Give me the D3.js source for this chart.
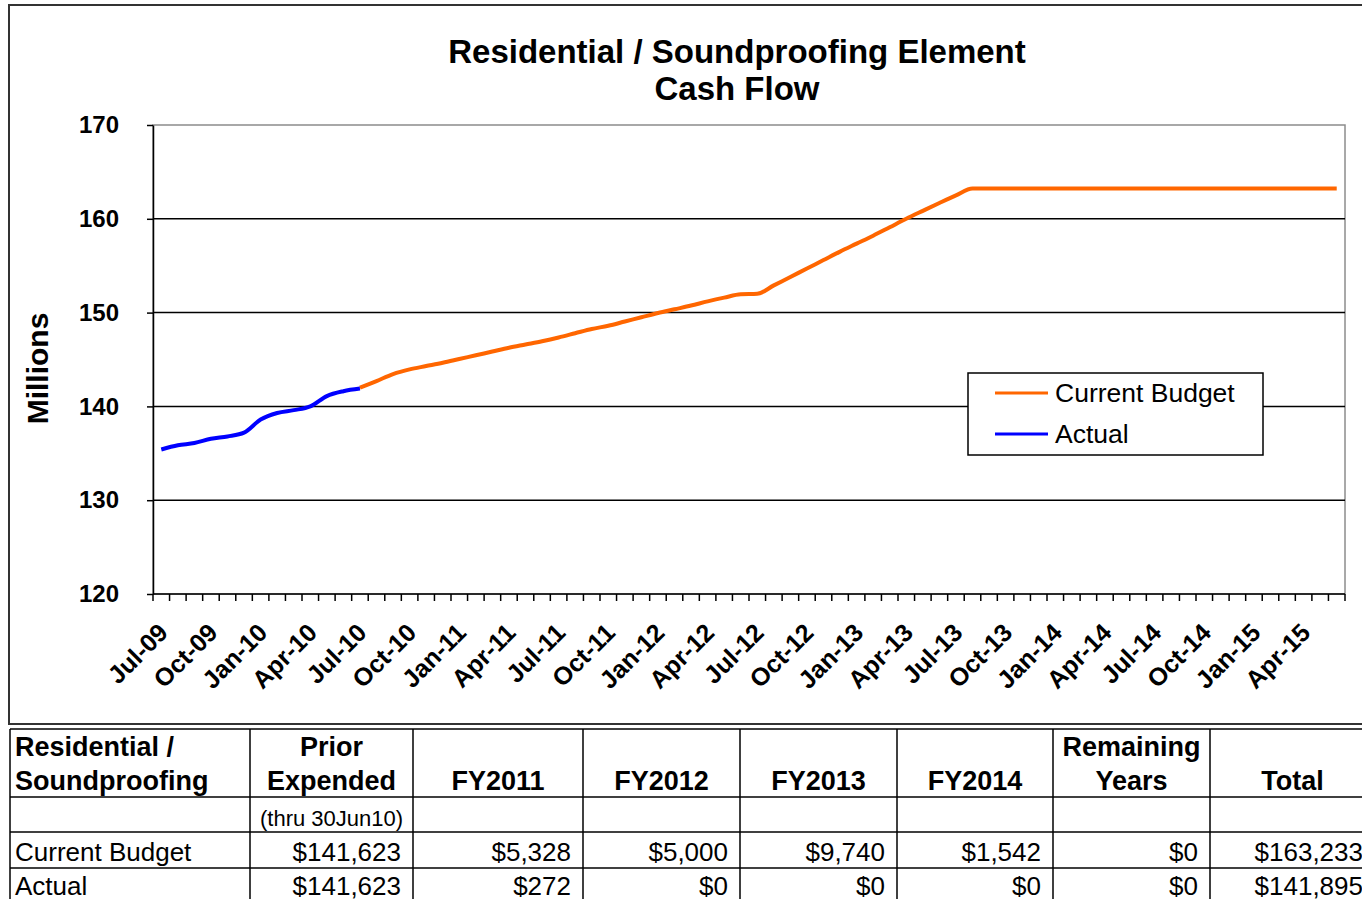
<!DOCTYPE html>
<html>
<head>
<meta charset="utf-8">
<script src="https://cdn.jsdelivr.net/npm/d3@7"></script>
<style>
  body { margin: 0; background: #fff; }
  svg { display: block; font-family: "Liberation Sans", Arial, sans-serif; }
</style>
</head>
<body>
<div class="chart"></div>
<script>
// months on the category axis (Jul-09 .. Jun-15)
const months = [
  'Jul-09','Aug-09','Sep-09','Oct-09','Nov-09','Dec-09','Jan-10','Feb-10','Mar-10','Apr-10','May-10','Jun-10',
  'Jul-10','Aug-10','Sep-10','Oct-10','Nov-10','Dec-10','Jan-11','Feb-11','Mar-11','Apr-11','May-11','Jun-11',
  'Jul-11','Aug-11','Sep-11','Oct-11','Nov-11','Dec-11','Jan-12','Feb-12','Mar-12','Apr-12','May-12','Jun-12',
  'Jul-12','Aug-12','Sep-12','Oct-12','Nov-12','Dec-12','Jan-13','Feb-13','Mar-13','Apr-13','May-13','Jun-13',
  'Jul-13','Aug-13','Sep-13','Oct-13','Nov-13','Dec-13','Jan-14','Feb-14','Mar-14','Apr-14','May-14','Jun-14',
  'Jul-14','Aug-14','Sep-14','Oct-14','Nov-14','Dec-14','Jan-15','Feb-15','Mar-15','Apr-15','May-15','Jun-15'
];

// cumulative, millions
const actual = [135.4, 135.85, 136.1, 136.55, 136.8, 137.2, 138.6, 139.3, 139.6, 140.0, 141.1, 141.62, 141.9];

const budget = [
  null, null, null, null, null, null, null, null, null, null, null, null,
  142.0, 142.7, 143.45, 143.95, 144.3, 144.65, 145.05, 145.45, 145.85, 146.25, 146.6, 146.95,
  147.35, 147.8, 148.25, 148.6, 149.05, 149.5, 149.95, 150.35, 150.75, 151.2, 151.6, 151.95,
  152.0, 152.9, 153.8, 154.7, 155.6, 156.5, 157.35, 158.2, 159.1, 160.0, 160.85, 161.69,
  162.5, 163.23, 163.23, 163.23, 163.23, 163.23, 163.23, 163.23, 163.23, 163.23, 163.23, 163.23,
  163.23, 163.23, 163.23, 163.23, 163.23, 163.23, 163.23, 163.23, 163.23, 163.23, 163.23, 163.23
];

const yTicks = [120, 130, 140, 150, 160, 170];

const seriesNames = ['Current Budget', 'Actual'];
const seriesColors = ['#ff6600', '#0000ff'];

// table under the chart
const tableHead1 = ['Residential /', 'Prior', '', '', '', '', 'Remaining', ''];
const tableHead2 = ['Soundproofing', 'Expended', 'FY2011', 'FY2012', 'FY2013', 'FY2014', 'Years', 'Total'];
const tableNote = ['', '(thru 30Jun10)', '', '', '', '', '', ''];
const budgetRow = ['Current Budget', '$141,623', '$5,328', '$5,000', '$9,740', '$1,542', '$0', '$163,233'];
const actualRow = ['Actual', '$141,623', '$272', '$0', '$0', '$0', '$0', '$141,895'];

const W = 1362, H = 899;
const plot = { left: 153, right: 1345, top: 125, bottom: 594 };

const svg = d3.select('.chart')
  .append('svg')
    .attr('width', W)
    .attr('height', H);

// chart frame
svg.append('rect')
  .attr('x', 9).attr('y', 5)
  .attr('width', W + 10).attr('height', 719)
  .attr('fill', 'none')
  .attr('stroke', '#333')
  .attr('stroke-width', 2);

const title = svg.append('text')
  .attr('text-anchor', 'middle')
  .style('font-weight', 'bold')
  .style('font-size', '33px');
title.append('tspan').attr('x', 737).attr('y', 63).text('Residential / Soundproofing Element');
title.append('tspan').attr('x', 737).attr('y', 100).text('Cash Flow');

const x = d3.scaleBand()
  .domain(months)
  .range([plot.left, plot.right]);

const y = d3.scaleLinear()
  .domain([120, 170])
  .range([plot.bottom, plot.top]);

// plot area border (grey)
svg.append('rect')
  .attr('x', plot.left).attr('y', plot.top)
  .attr('width', plot.right - plot.left)
  .attr('height', plot.bottom - plot.top)
  .attr('fill', 'none')
  .attr('stroke', '#8c8c8c')
  .attr('stroke-width', 1.5);

// gridlines
svg.append('g')
  .selectAll('line')
  .data(yTicks.filter(d => d > 120 && d < 170))
  .enter()
  .append('line')
    .attr('x1', plot.left)
    .attr('x2', plot.right)
    .attr('y1', d => y(d))
    .attr('y2', d => y(d))
    .attr('stroke', '#000')
    .attr('stroke-width', 1.5);

// y axis
const yAxis = svg.append('g')
  .attr('transform', `translate(${plot.left},0)`)
  .call(d3.axisLeft(y).tickValues(yTicks).tickSize(6).tickPadding(28).tickSizeOuter(0));
yAxis.select('.domain').attr('stroke', '#000').attr('stroke-width', 1.5);
yAxis.selectAll('.tick line').attr('stroke', '#000').attr('stroke-width', 1.5);
yAxis.selectAll('.tick text')
  .attr('fill', '#000')
  .style('font-size', '24px')
  .style('font-weight', 'bold')
  .style('font-family', '"Liberation Sans", Arial, sans-serif');

svg.append('text')
  .attr('transform', `translate(48,${(plot.top + plot.bottom) / 2 + 9}) rotate(-90)`)
  .attr('text-anchor', 'middle')
  .style('font-weight', 'bold')
  .style('font-size', '30px')
  .text('Millions');

// x axis: ticks between categories
const xAxisG = svg.append('g');
xAxisG.append('line')
  .attr('x1', plot.left).attr('x2', plot.right)
  .attr('y1', plot.bottom).attr('y2', plot.bottom)
  .attr('stroke', '#000').attr('stroke-width', 1.5);

const boundaries = months.map(m => x(m)).concat([x(months[months.length - 1]) + x.bandwidth()]);
xAxisG.selectAll('.xt')
  .data(boundaries)
  .enter()
  .append('line')
    .attr('x1', d => d).attr('x2', d => d)
    .attr('y1', plot.bottom).attr('y2', plot.bottom + 7)
    .attr('stroke', '#000').attr('stroke-width', 1.5);

xAxisG.selectAll('.xl')
  .data(months.filter((d, i) => i % 3 === 0))
  .enter()
  .append('text')
    .attr('text-anchor', 'end')
    .attr('transform', d => `translate(${x(d) + x.bandwidth() / 2 + 2},${plot.bottom + 34}) rotate(-45)`)
    .attr('dy', '0.35em')
    .style('font-size', '25px')
    .style('font-weight', 'bold')
    .text(d => d);

// lines
const cx = (i) => x(months[i]) + x.bandwidth() / 2;
const line = d3.line()
  .defined(d => d != null)
  .x((d, i) => cx(i))
  .y(d => y(d))
  .curve(d3.curveMonotoneX);

svg.append('path')
  .datum(budget)
  .attr('d', line)
  .attr('fill', 'none')
  .attr('stroke', seriesColors[0])
  .attr('stroke-width', 4)
  .attr('stroke-linejoin', 'round');

svg.append('path')
  .datum(actual)
  .attr('d', line)
  .attr('fill', 'none')
  .attr('stroke', seriesColors[1])
  .attr('stroke-width', 4)
  .attr('stroke-linejoin', 'round');

// legend
const legend = svg.append('g');
legend.append('rect')
  .attr('x', 968).attr('y', 373)
  .attr('width', 295).attr('height', 82)
  .attr('fill', '#fff')
  .attr('stroke', '#000')
  .attr('stroke-width', 1.5);

legend.selectAll('line')
  .data(seriesNames)
  .enter()
  .append('line')
    .attr('x1', 995).attr('x2', 1048)
    .attr('y1', (d, i) => 393 + i * 41)
    .attr('y2', (d, i) => 393 + i * 41)
    .attr('stroke', (d, i) => seriesColors[i])
    .attr('stroke-width', 3);

legend.selectAll('text')
  .data(seriesNames)
  .enter()
  .append('text')
    .attr('x', 1055)
    .attr('y', (d, i) => 402 + i * 41)
    .style('font-size', '26.5px')
    .text(d => d);

// table
const colEdges = [10, 250, 413, 583, 740, 897, 1053, 1210, 1375];
const rowEdges = [729, 797, 832, 868, 905];

const table = svg.append('g');
table.selectAll('.hl')
  .data(rowEdges)
  .enter()
  .append('line')
    .attr('x1', colEdges[0]).attr('x2', W)
    .attr('y1', d => d).attr('y2', d => d)
    .attr('stroke', '#000').attr('stroke-width', 1.5);

table.selectAll('.vl')
  .data(colEdges)
  .enter()
  .append('line')
    .attr('x1', d => d).attr('x2', d => d)
    .attr('y1', rowEdges[0]).attr('y2', H)
    .attr('stroke', '#000').attr('stroke-width', 1.5);

const cellText = (row, baseline, opts) => {
  table.selectAll(null)
    .data(row)
    .enter()
    .append('text')
      .attr('x', (d, i) => {
        if (i === 0) return colEdges[0] + 5;
        if (opts.center) return (colEdges[i] + colEdges[i + 1]) / 2;
        return colEdges[i + 1] - 12;
      })
      .attr('y', baseline)
      .attr('text-anchor', (d, i) => i === 0 ? 'start' : (opts.center ? 'middle' : 'end'))
      .style('font-size', opts.size)
      .style('font-weight', opts.bold ? 'bold' : 'normal')
      .text(d => d);
};

cellText(tableHead1, 756, { center: true, bold: true, size: '27px' });
cellText(tableHead2, 790, { center: true, bold: true, size: '27px' });
cellText(tableNote, 826, { center: true, bold: false, size: '22px' });
cellText(budgetRow, 861, { center: false, bold: false, size: '26px' });
cellText(actualRow, 895, { center: false, bold: false, size: '26px' });
</script>
</body>
</html>
